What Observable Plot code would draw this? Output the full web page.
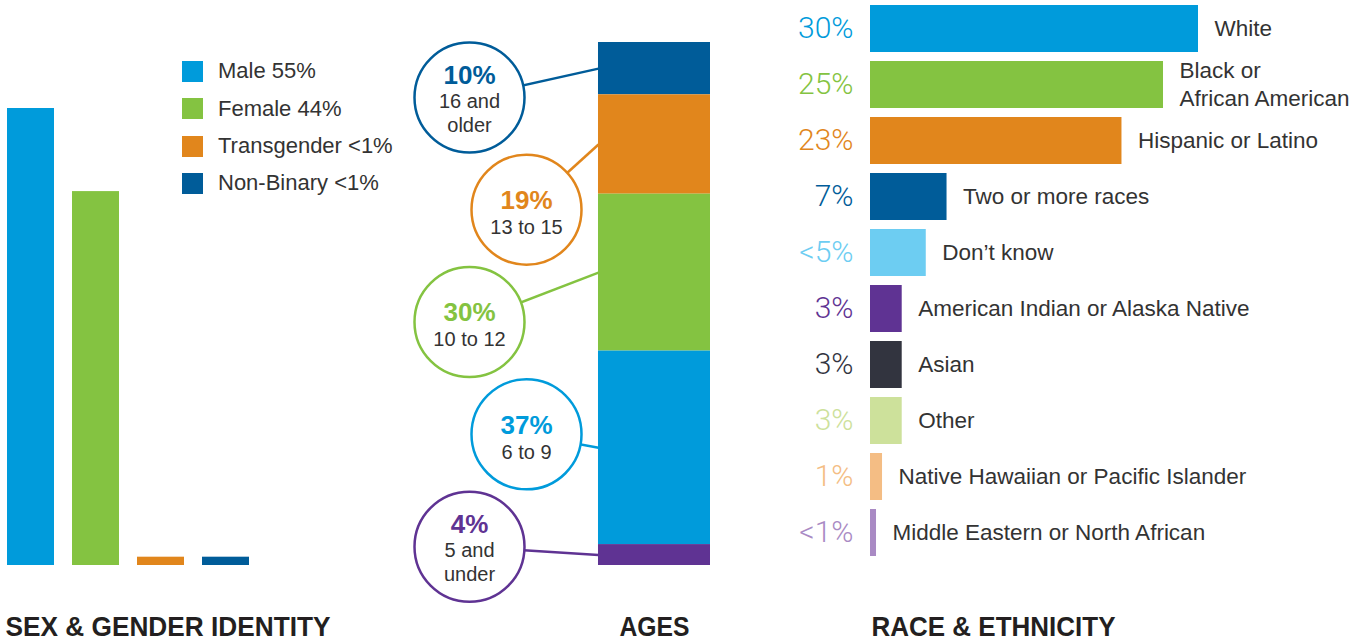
<!DOCTYPE html>
<html><head><meta charset="utf-8">
<script src="https://cdn.jsdelivr.net/npm/d3@7"></script>
<script src="https://cdn.jsdelivr.net/npm/@observablehq/plot@0.6"></script>
<style>
html,body{margin:0;padding:0;background:#fff;}
#chart{position:relative;width:1365px;height:642px;overflow:hidden;}
#chart svg{position:absolute;left:0;top:0;overflow:visible;background:transparent;}
.legend{position:absolute;left:182px;top:52.8px;font-family:"Liberation Sans",Arial,sans-serif;font-size:22px;color:#333;}
.legend .row{display:flex;align-items:center;height:37.3px;}
.legend .sw{width:21px;height:21px;margin-right:15px;flex:none;}
</style></head><body><div id="chart"></div>
<script>
// ---- data ----
const genderCategories = ["Male", "Female", "Transgender", "Non-Binary"];
const genderValues = [55, 45, 1, 1];
const genderLabels = ["Male 55%", "Female 44%", "Transgender <1%", "Non-Binary <1%"];
const genderColors = ["#009bdb", "#84c341", "#e1861c", "#005c99"];

const ageGroups = ["16 and\nolder", "13 to 15", "10 to 12", "6 to 9", "5 and\nunder"];
const agePercents = [10, 19, 30, 37, 4];
const ageLabels = ["10%", "19%", "30%", "37%", "4%"];
const ageColors = ["#005c99", "#e1861c", "#84c341", "#009bdb", "#5f3393"];

const raceCategories = ["White", "Black or\nAfrican American", "Hispanic or Latino", "Two or more races", "Don\u2019t know",
  "American Indian or Alaska Native", "Asian", "Other", "Native Hawaiian or Pacific Islander", "Middle Eastern or North African"];
const raceValues = [30, 26.8, 23, 7, 5.1, 2.9, 2.9, 2.9, 1.1, 0.55];
const raceLabels = ["30%", "25%", "23%", "7%", "<5%", "3%", "3%", "3%", "1%", "<1%"];
const raceColors = ["#009bdb", "#84c341", "#e1861c", "#005c99", "#6dcdf2", "#5f3393", "#32343f", "#cde19b", "#f4bd84", "#a98ac4"];

const titles = ["SEX & GENDER IDENTITY", "AGES", "RACE & ETHNICITY"];

// ---- shared styling ----
const W = 1365, H = 642;
const FONT = "'Liberation Sans', Arial, sans-serif";
const INK = "#333";
const TITLE_WIDTHS = [325, 70, 244];
const chart = document.getElementById("chart");

function titleMark(i, opts) {
  return Plot.text([titles[i]], {lineAnchor: "top", fontSize: 28, fontWeight: "bold", fill: "#231f20", ...opts});
}
function condenseTitle(svg, i) {
  d3.select(svg).selectAll("text").filter(function () { return this.textContent === titles[i]; })
    .attr("textLength", TITLE_WIDTHS[i]).attr("lengthAdjust", "spacingAndGlyphs");
}

// ---- panel 1: sex & gender ----
const gender = genderCategories.map((c, i) => ({cat: c, value: genderValues[i], label: genderLabels[i], color: genderColors[i]}));
const p1 = Plot.plot({
  width: W, height: H,
  marginLeft: 6, marginRight: W - 249, marginTop: 108, marginBottom: 77,
  style: {fontFamily: FONT, background: "transparent"},
  x: {domain: genderCategories, paddingInner: 0.28, paddingOuter: 0, axis: null},
  y: {domain: [0, 55], axis: null},
  color: {type: "identity"},
  marks: [
    Plot.barY(gender, {x: "cat", y: "value", fill: "color"}),
    titleMark(0, {frameAnchor: "bottom-left", dx: -1, dy: 51, textAnchor: "start"})
  ]
});
condenseTitle(p1, 0);
chart.appendChild(p1);

const legend = d3.select(chart).append("div").attr("class", "legend");
const rows = legend.selectAll("div.row").data(gender).join("div").attr("class", "row");
rows.append("div").attr("class", "sw").style("background", d => d.color);
rows.append("span").text(d => d.label);

// ---- panel 2: ages ----
const BAR_X1 = 0.6216, BAR_X2 = 1, COL_X = [0.1858, 0.3784];
const ages = ageGroups.map((g, i) => ({group: g, pct: agePercents[i], label: ageLabels[i], color: ageColors[i], i}));
let acc = 0;
for (const d of [...ages].reverse()) { d.y1 = acc; acc += d.pct; d.y2 = acc; d.mid = (d.y1 + d.y2) / 2; }
const slotY = d3.scaleLinear([0, ages.length - 1], [89.5, 3.6]);
ages.forEach(d => { d.cy = slotY(d.i); d.cx = COL_X[d.i % 2]; d.lines = d.group.split("\n").length; });

const p2 = Plot.plot({
  width: W, height: H,
  marginLeft: 414, marginRight: W - 710, marginTop: 42, marginBottom: 77,
  style: {fontFamily: FONT, background: "transparent"},
  x: {domain: [0, 1], axis: null},
  y: {domain: [0, 100], axis: null},
  color: {type: "identity"},
  marks: [
    Plot.rect(ages, {x1: () => BAR_X1, x2: () => BAR_X2, y1: "y1", y2: "y2", fill: "color"}),
    Plot.link(ages, {x1: "cx", y1: "cy", x2: () => BAR_X1, y2: "mid", stroke: "color", strokeWidth: 2.5}),
    Plot.dot(ages, {x: "cx", y: "cy", r: 55, fill: "white", stroke: "color", strokeWidth: 2.5}),
    // one-line labels
    Plot.text(ages.filter(d => d.lines === 1), {x: "cx", y: "cy", text: "label", dy: -9, fill: "color", fontSize: 26, fontWeight: "bold"}),
    Plot.text(ages.filter(d => d.lines === 1), {x: "cx", y: "cy", text: "group", dy: 18, fill: INK, fontSize: 20}),
    // two-line labels
    Plot.text(ages.filter(d => d.lines === 2), {x: "cx", y: "cy", text: "label", dy: -22, fill: "color", fontSize: 26, fontWeight: "bold"}),
    Plot.text(ages.filter(d => d.lines === 2), {x: "cx", y: "cy", text: "group", dy: 15, lineHeight: 1.2, fill: INK, fontSize: 20}),
    titleMark(1, {x: () => (BAR_X1 + BAR_X2) / 2, frameAnchor: "bottom", dy: 51})
  ]
});
condenseTitle(p2, 1);
chart.appendChild(p2);

// ---- panel 3: race & ethnicity ----
const race = raceCategories.map((c, i) => ({cat: c, value: raceValues[i], label: raceLabels[i], color: raceColors[i]}));
const p3 = Plot.plot({
  width: W, height: H,
  marginLeft: 870, marginRight: W - 1198, marginTop: 0.5, marginBottom: 81.5,
  style: {fontFamily: FONT, background: "transparent"},
  x: {domain: [0, 30], axis: null},
  y: {domain: raceCategories, paddingInner: 0.16, paddingOuter: 0.08, axis: null},
  color: {type: "identity"},
  marks: [
    Plot.barX(race, {x: "value", y: "cat", fill: "color"}),
    Plot.text(race, {x: () => 0, y: "cat", text: "label", textAnchor: "end", dx: -17, dy: -1, fill: "color",
      fontSize: 30, fontWeight: 300, fontFamily: "Roboto, 'Liberation Sans', sans-serif"}),
    Plot.text(race, {x: "value", y: "cat", text: "cat", textAnchor: "start", dx: 16, dy: -2, fill: INK, fontSize: 22.5, lineHeight: 1.22}),
    titleMark(2, {frameAnchor: "bottom-left", dx: 1, dy: 55.5, textAnchor: "start"})
  ]
});
condenseTitle(p3, 2);
chart.appendChild(p3);
</script></body></html>
